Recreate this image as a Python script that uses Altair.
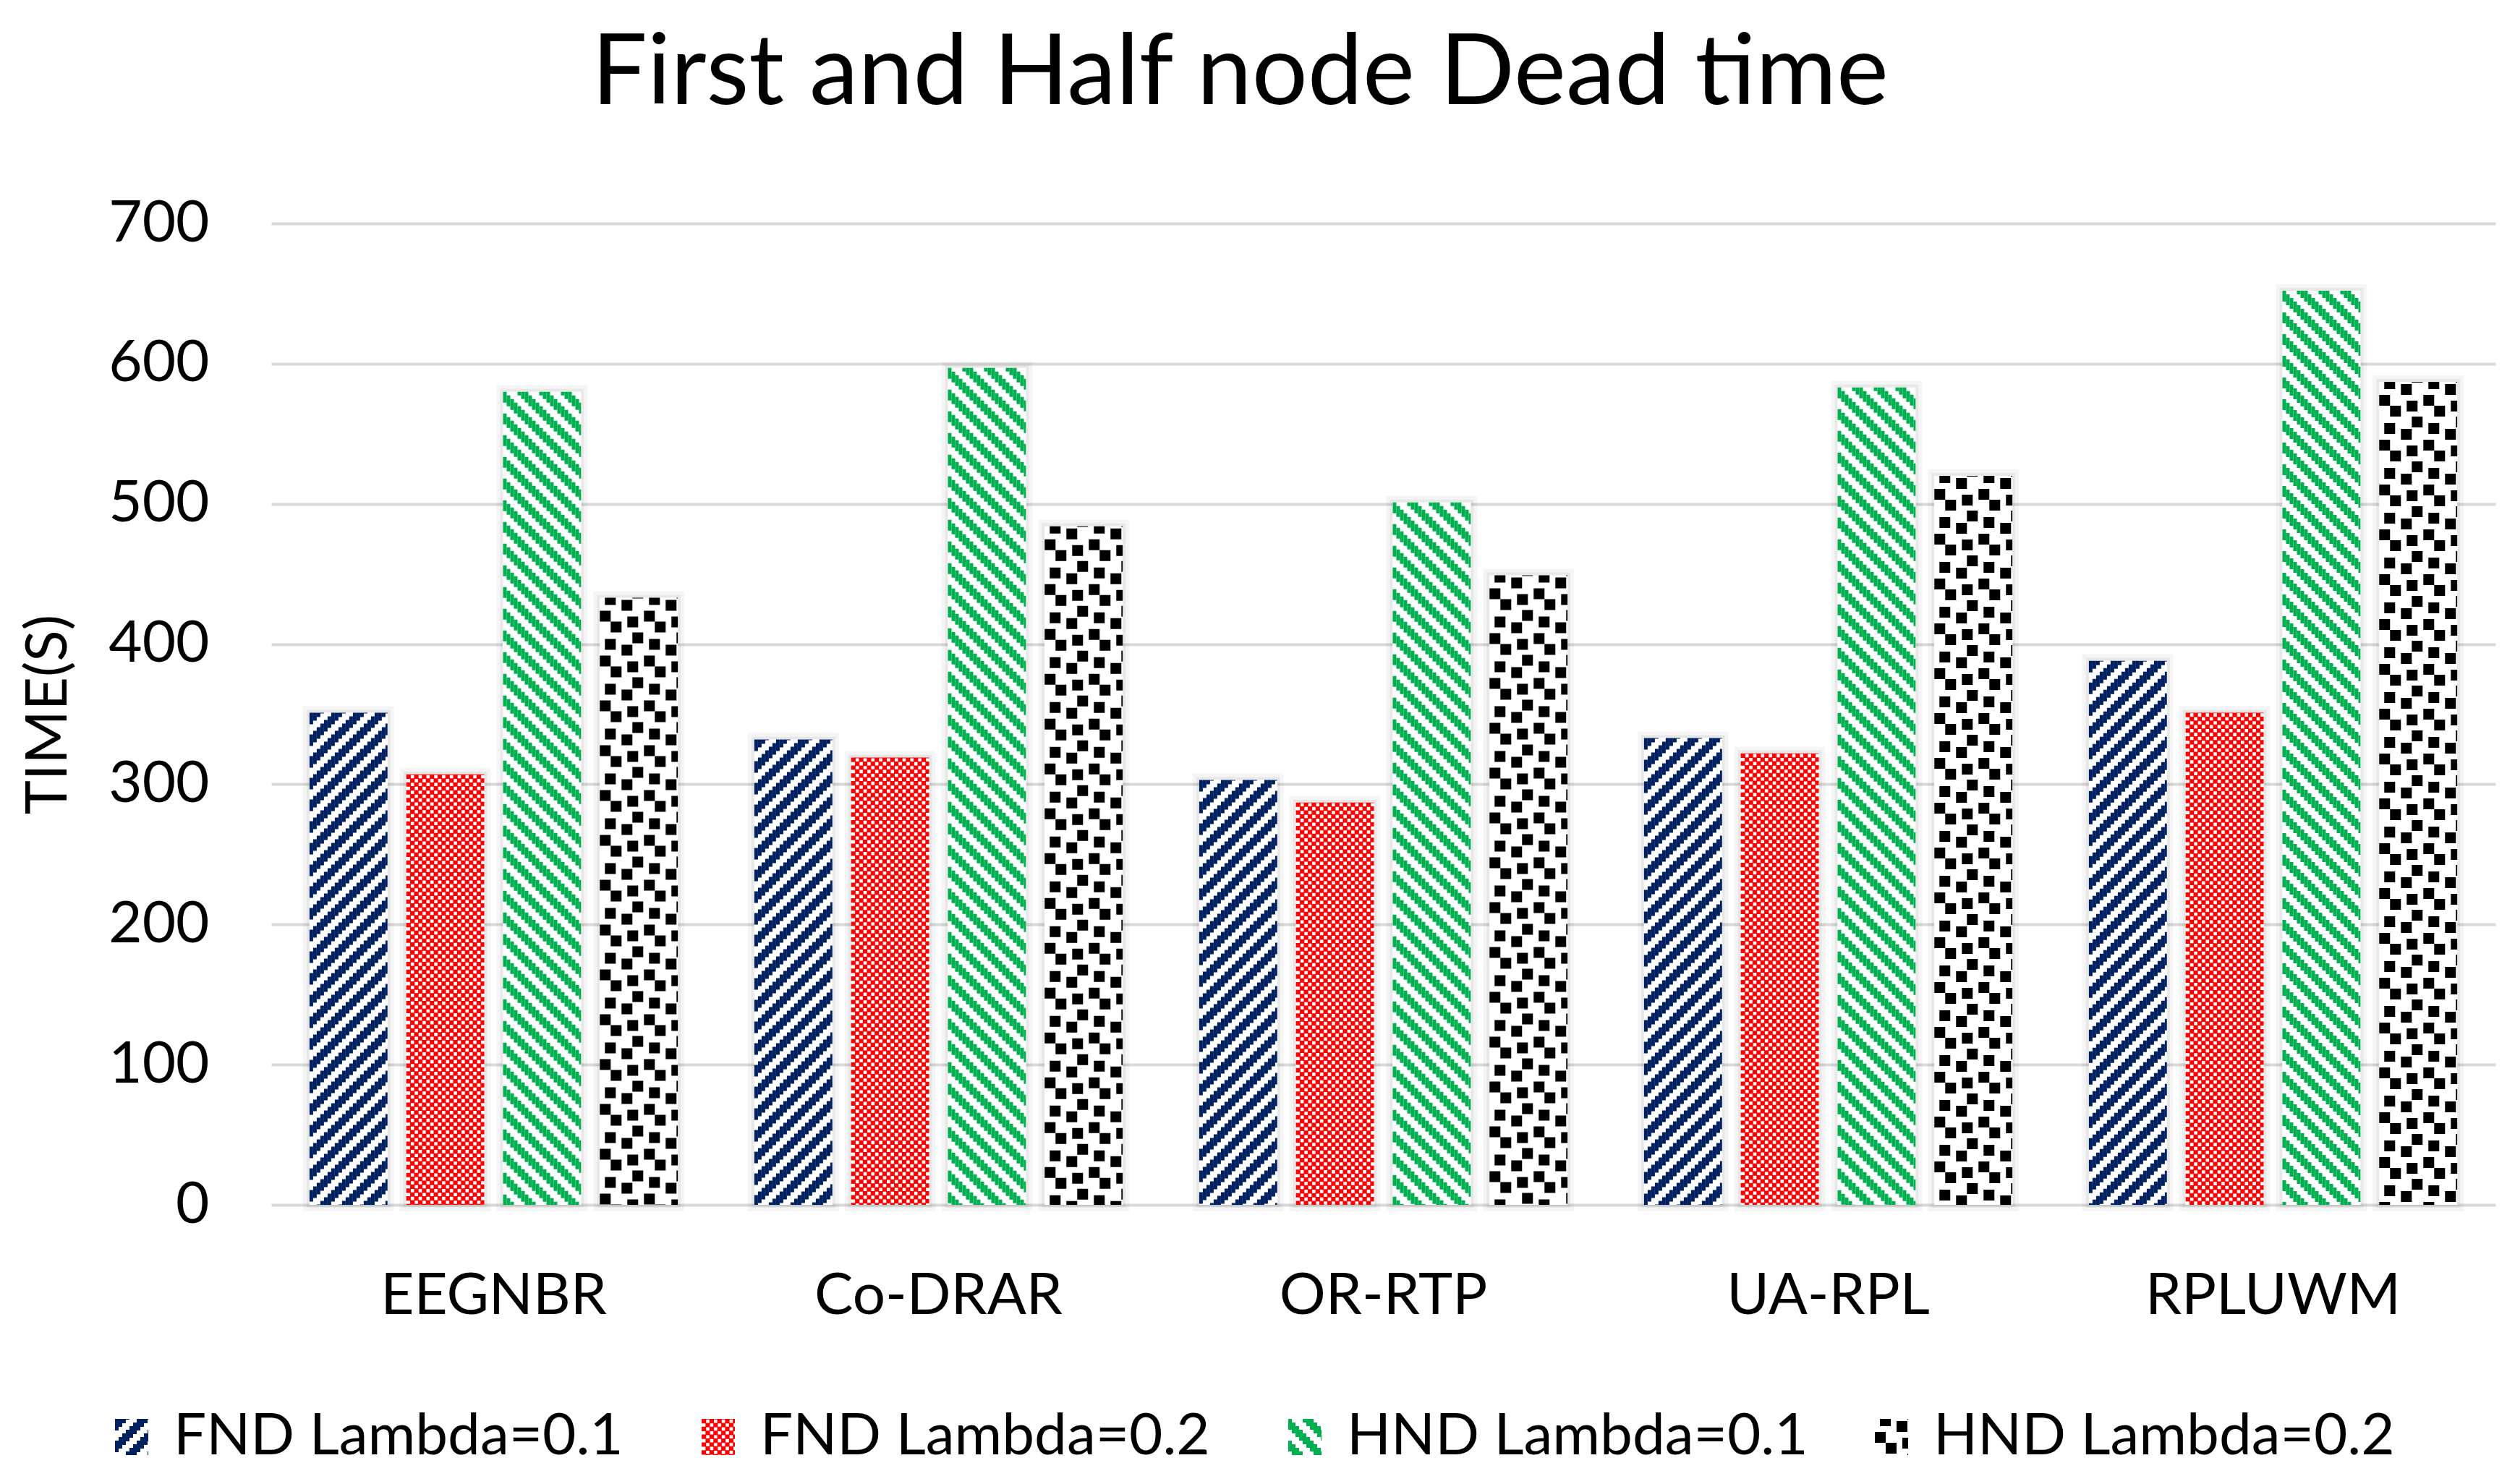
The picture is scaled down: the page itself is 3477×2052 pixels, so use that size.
import math
import altair as alt
import pandas as pd

# ---------------- data ----------------
categories = ["EEGNBR", "Co-DRAR", "OR-RTP", "UA-RPL", "RPLUWM"]
series = ["FND Lambda=0.1", "FND Lambda=0.2", "HND Lambda=0.1", "HND Lambda=0.2"]
fnd_01 = [351, 332, 303, 333, 388]
fnd_02 = [307, 319, 287, 322, 351]
hnd_01 = [580, 597, 501, 583, 652]
hnd_02 = [433, 484, 449, 520, 587]
y_ticks = [0, 100, 200, 300, 400, 500, 600, 700]

colors = ["#002060", "#FF0000", "#00B050", "#000000"]

rows = []
for s, vals in zip(series, [fnd_01, fnd_02, hnd_01, hnd_02]):
    for c, v in zip(categories, vals):
        rows.append({"cat": c, "series": s, "value": v})
df = pd.DataFrame(rows)
leg_df = pd.DataFrame({"series": series})

# ---------------- layout / style ----------------
FONT = "Lato"
PLOT_W, PLOT_H = 3075, 1357
X_PI, X_PO = 0.172, 0.086
OFF_PI = 0.194
n_cat, n_ser = len(categories), len(series)
cat_step = PLOT_W / (n_cat - X_PI + 2 * X_PO)
group_w = cat_step * (1 - X_PI)
off_step = group_w / (n_ser - OFF_PI)
BAR_W = off_step * (1 - OFF_PI)

LEG_STEP = 811
LEG_START = -216          # relative to the plot origin
SW_W = 46
SW_H = 50


def diag(period, col, on, up):
    cells = []
    for j in range(period // col):
        y = (-j * col) % period if up else (j * col) % period
        cells.append((j * col, y, col, on))
    return (period, period, cells)


patterns = [
    diag(30, 5, 16, True),
    (10.8, 10.8, [(0, 0, 6.2, 6.2), (5.4, 5.4, 6.2, 6.2)]),
    diag(30, 5, 15, False),
    (61, 62, [(7, 57, 15, 15), (30, 3, 15, 15), (0, 18, 15, 15),
              (38, 26, 15, 15), (15, 33, 15, 15), (45, 48, 15, 15)]),
]


def columns(pattern, width):
    tw, th, cells = pattern
    out = []
    reps = math.ceil(width / tw)
    for r in range(reps + 1):
        for (cx, cy, cw, ch) in cells:
            x0 = r * tw + cx
            x1 = x0 + cw
            a, b = max(0.0, x0), min(width, x1)
            if b - a > 0.3:
                out.append(dict(center=(a + b) / 2 - width / 2, w=b - a,
                                dash=[ch, th - ch], off=(th - cy) % th))
    return out


x_enc = alt.X("cat:N", sort=categories,
              scale=alt.Scale(domain=categories, paddingInner=X_PI, paddingOuter=X_PO),
              axis=alt.Axis(title=None, labelFontSize=80, labelFont=FONT, labelColor="#000000",
                            labelPadding=87, labelLimit=0, ticks=False, domain=False,
                            labelAngle=0, grid=False))
off_enc = alt.XOffset("series:N", sort=series,
                      scale=alt.Scale(domain=series, paddingInner=OFF_PI, paddingOuter=0))
y_enc = alt.Y("value:Q", scale=alt.Scale(domain=[0, 700], nice=False),
              axis=alt.Axis(values=y_ticks, title="TIME(S)", titleFontSize=80, titleFont=FONT,
                            titleFontWeight="normal", titleColor="#000000", titlePadding=67,
                            labelFontSize=80, labelFont=FONT, labelColor="#000000", labelPadding=86,
                            ticks=False, domain=False, grid=True, gridColor="#d9d9d9", gridWidth=4))

base = alt.Chart()
layers = [
    base.mark_bar(fill="white", stroke="#000000", strokeOpacity=0.04, strokeWidth=18)
        .encode(x=x_enc, xOffset=off_enc, y=y_enc, y2=alt.Y2Datum(0)),
    base.mark_bar(fill="white", stroke="#000000", strokeOpacity=0.05, strokeWidth=8)
        .encode(x=x_enc, xOffset=off_enc, y=y_enc, y2=alt.Y2Datum(0)),
    base.mark_bar(fill="white").encode(x=x_enc, xOffset=off_enc, y=y_enc, y2=alt.Y2Datum(0)),
]
for i, s in enumerate(series):
    ser_center = i * off_step + BAR_W / 2 - group_w / 2
    for col in columns(patterns[i], BAR_W):
        layers.append(
            base.mark_rule(color=colors[i], strokeWidth=col["w"], strokeDash=col["dash"],
                           strokeDashOffset=col["off"], xOffset=ser_center + col["center"])
            .encode(x=x_enc, y=y_enc, y2=alt.Y2Datum(0))
            .transform_filter(alt.datum.series == s)
        )

main = alt.layer(*layers, data=df).properties(width=PLOT_W, height=PLOT_H)

# ---------------- legend panel ----------------
lx = alt.X("series:N", sort=series,
           scale=alt.Scale(domain=series, range=[LEG_START, LEG_START + LEG_STEP * n_ser],
                           paddingInner=0, paddingOuter=0),
           axis=None)
ly_scale = alt.Scale(domain=[0, 1])
leg_layers = []
for i, s in enumerate(series):
    base_off = -LEG_STEP / 2 + SW_W / 2
    for col in columns(patterns[i], SW_W):
        leg_layers.append(
            alt.Chart().mark_rule(color=colors[i], strokeWidth=col["w"], strokeDash=col["dash"],
                                  strokeDashOffset=col["off"], xOffset=base_off + col["center"])
            .encode(x=lx, y=alt.YDatum(1, scale=ly_scale, axis=None), y2=alt.Y2Datum(0))
            .transform_filter(alt.datum.series == s)
        )
leg_layers.append(
    alt.Chart().mark_text(align="left", baseline="middle", fontSize=80, font=FONT,
                          color="#000000", dx=-LEG_STEP / 2 + 81)
    .encode(x=lx, y=alt.YDatum(0.5, scale=ly_scale, axis=None), text="series:N")
)
legend = alt.layer(*leg_layers, data=leg_df).properties(width=PLOT_W, height=SW_H)

chart = (
    alt.vconcat(main, legend, spacing=115)
    .properties(
        title=alt.TitleParams("First and Half node Dead time", fontSize=136, font=FONT,
                              fontWeight="normal", color="#000000", anchor="middle",
                              frame="bounds", offset=96, dx=-24),
        padding={"left": 19, "top": 27, "right": 10, "bottom": 10},
        background="white",
    )
    .configure_view(stroke=None)
)

chart.save("out.html", embed_options={"renderer": "svg", "actions": False})
